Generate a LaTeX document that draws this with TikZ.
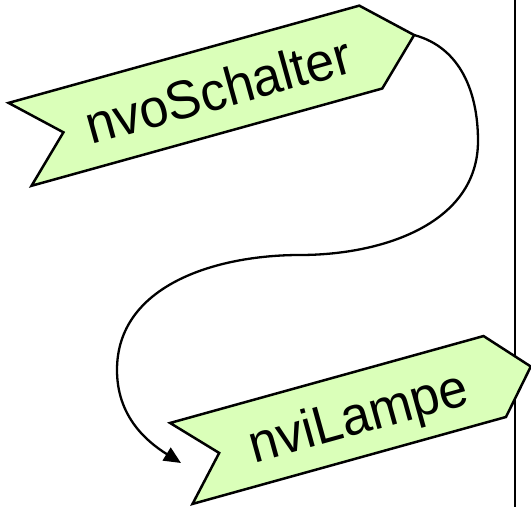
\documentclass[tikz,border=0pt]{standalone}
\usepackage{fontspec}
\setmainfont{Liberation Sans}
\usetikzlibrary{arrows.meta}
\definecolor{siggreen}{RGB}{218,255,185}
\tikzset{
  sigbox/.style={draw=black, fill=siggreen, line width=2.5pt, line join=miter},
  siglabel/.style={inner sep=0pt, text depth=0pt, rotate=15.5, xscale=0.96, font=\fontsize{54}{63}\selectfont},
  conn/.style={line width=2.3pt, -{Triangle[length=17pt,width=15pt]}},
  divider/.style={line width=2.6pt}
}
\begin{document}
\begin{tikzpicture}[x=1pt,y=1pt]
\useasboundingbox (0,0) rectangle (531,507);
% divider line
\coordinate (d1) at (515,507);
\coordinate (d2) at (515,0);
\draw[divider] (d1) -- (d2);
% shape 1
\coordinate (c1) at (217.1,417.3);
\begin{scope}[shift={(c1)}, rotate=15.5]
  \draw[sigbox] (-204.5,43) -- (-159.5,0) -- (-204.5,-43) -- (159.5,-43) -- (204.5,0) -- (159.5,43) -- cycle;
  \coordinate (t1) at (204.5,0);
  \coordinate (l1) at (1,0);
\end{scope}
\node[siglabel] (s1) at (l1) {nvoSchalter};
% shape 2
\coordinate (c2) at (356,92);
\begin{scope}[shift={(c2)}, rotate=15.5]
  \draw[sigbox] (-181.3,42) -- (-142,0) -- (-181.3,-42) -- (144,-42) -- (181.4,0) -- (144,42) -- cycle;
  \coordinate (l2) at (2,0);
\end{scope}
\node[siglabel] (s2) at (l2) {nviLampe};
% connector
\coordinate (p1) at (478,366);
\coordinate (p2) at (300,252);
\coordinate (p3) at (117,137);
\coordinate (e) at (181,44);
\draw[conn] (t1) to[out=-15,in=90] (p1) to[out=-90,in=0] (p2) to[out=180,in=90] (p3) to[out=-90,in=148] (e);
\end{tikzpicture}
\end{document}
